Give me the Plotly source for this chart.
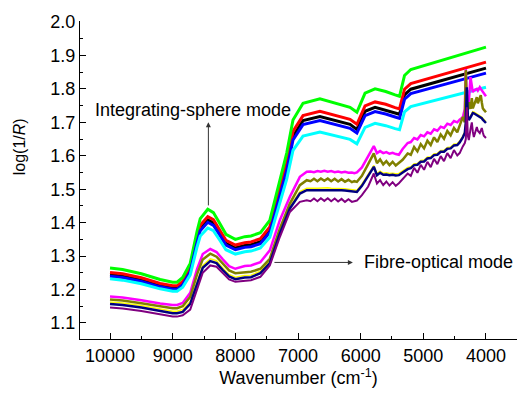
import plotly.graph_objects as go

# ---------------- data ----------------
X_SPHERE = [10000, 9800, 9500, 9200, 9000, 8930, 8840, 8720, 8610, 8560, 8440, 8350, 8250, 8150,
            8000, 7850, 7750, 7600, 7450, 7290, 7180, 7080, 6920, 6650, 6380, 6170, 6060, 5930,
            5770, 5600, 5450, 5380, 5300, 5200, 4000]

GREEN = [1.264, 1.260, 1.247, 1.230, 1.222, 1.222, 1.236, 1.278, 1.375, 1.412, 1.440, 1.430, 1.398, 1.365,
         1.350, 1.358, 1.360, 1.370, 1.407, 1.527, 1.608, 1.707, 1.757, 1.770, 1.757, 1.745, 1.730, 1.787,
         1.800, 1.792, 1.782, 1.778, 1.840, 1.858, 1.925]
RED = [1.251, 1.247, 1.235, 1.218, 1.211, 1.211, 1.224, 1.264, 1.357, 1.392, 1.418, 1.409, 1.378, 1.347,
       1.333, 1.340, 1.342, 1.352, 1.387, 1.501, 1.578, 1.673, 1.720, 1.733, 1.720, 1.709, 1.694, 1.749,
       1.761, 1.754, 1.744, 1.740, 1.799, 1.816, 1.880]
BLACK = [1.244, 1.240, 1.228, 1.212, 1.205, 1.205, 1.218, 1.257, 1.348, 1.382, 1.408, 1.399, 1.369, 1.338,
         1.324, 1.332, 1.334, 1.343, 1.377, 1.490, 1.565, 1.658, 1.705, 1.717, 1.705, 1.694, 1.679, 1.733,
         1.745, 1.737, 1.728, 1.724, 1.782, 1.799, 1.862]
BLUE = [1.240, 1.236, 1.224, 1.208, 1.201, 1.201, 1.214, 1.253, 1.342, 1.376, 1.401, 1.392, 1.363, 1.333,
        1.319, 1.326, 1.328, 1.337, 1.371, 1.481, 1.556, 1.647, 1.693, 1.705, 1.693, 1.682, 1.668, 1.720,
        1.732, 1.725, 1.716, 1.712, 1.769, 1.786, 1.847]
CYAN = [1.232, 1.228, 1.217, 1.202, 1.195, 1.195, 1.207, 1.244, 1.328, 1.360, 1.384, 1.376, 1.348, 1.319,
        1.306, 1.313, 1.315, 1.324, 1.356, 1.460, 1.530, 1.616, 1.659, 1.671, 1.659, 1.649, 1.636, 1.685,
        1.697, 1.690, 1.681, 1.678, 1.731, 1.747, 1.805]

X_FIBRE = [10000, 9800, 9500, 9200, 9000, 8930, 8840, 8720, 8610, 8520, 8400, 8300, 8200, 8100,
           8000, 7850, 7750, 7600, 7450, 7290, 7130, 6970, 6860,
           6800, 6745, 6690, 6635, 6580, 6525, 6470, 6415, 6360, 6305, 6250, 6195, 6140, 6100,
           6060, 5980, 5880, 5790, 5740, 5690, 5640, 5590, 5540, 5490, 5440, 5390, 5330, 5250,
           5200, 5147, 5094, 5041, 4988, 4935, 4882, 4829, 4776, 4723, 4670, 4617, 4564, 4511, 4458,
           4420, 4370, 4338, 4322, 4306, 4290, 4274, 4247, 4226, 4210, 4194, 4146, 4130, 4099, 4083,
           4067, 4051, 4035, 4000]

MAGENTA = [1.179, 1.176, 1.168, 1.158, 1.154, 1.154, 1.160, 1.190, 1.262, 1.306, 1.321, 1.312, 1.290, 1.270,
           1.262, 1.270, 1.272, 1.282, 1.317, 1.407, 1.477, 1.537, 1.552,
           1.553, 1.551, 1.554, 1.552, 1.555, 1.552, 1.554, 1.551, 1.553, 1.550, 1.552, 1.549, 1.550, 1.548,
           1.550, 1.565, 1.600, 1.629, 1.608, 1.614, 1.608, 1.611, 1.606, 1.609, 1.605, 1.603, 1.620, 1.638,
           1.641, 1.653, 1.649, 1.662, 1.658, 1.670, 1.666, 1.679, 1.675, 1.687, 1.683, 1.696, 1.692, 1.704, 1.700,
           1.708, 1.715, 1.740, 1.859, 1.760, 1.742, 1.760, 1.835, 1.800, 1.790, 1.795, 1.800, 1.795, 1.805, 1.800,
           1.795, 1.790, 1.785, 1.778]
YELLOW = [1.163, 1.160, 1.152, 1.142, 1.135, 1.135, 1.140, 1.164, 1.226, 1.272, 1.292, 1.286, 1.264, 1.245,
          1.237, 1.242, 1.243, 1.255, 1.285, 1.373, 1.448, 1.493, 1.503,
          1.502, 1.503, 1.503, 1.504, 1.503, 1.504, 1.503, 1.503, 1.502, 1.502, 1.501, 1.500, 1.499, 1.498,
          1.497, 1.515, 1.545, 1.571, 1.547, 1.554, 1.548, 1.549, 1.547, 1.548, 1.546, 1.547, 1.555, 1.565,
          1.567, 1.576, 1.577, 1.586, 1.587, 1.596, 1.597, 1.606, 1.607, 1.616, 1.616, 1.625, 1.626, 1.635, 1.636,
          1.644, 1.659, 1.672, 1.704, 1.760, 1.724, 1.711, 1.719, 1.729, 1.732, 1.731, 1.726, 1.724, 1.720, 1.717,
          1.716, 1.712, 1.709, 1.702]
OLIVE = [1.170, 1.167, 1.159, 1.149, 1.144, 1.144, 1.150, 1.178, 1.246, 1.290, 1.307, 1.298, 1.276, 1.257,
         1.249, 1.252, 1.253, 1.262, 1.292, 1.382, 1.457, 1.512, 1.527,
         1.524, 1.531, 1.524, 1.532, 1.525, 1.532, 1.524, 1.531, 1.523, 1.530, 1.522, 1.528, 1.521, 1.524,
         1.522, 1.540, 1.575, 1.607, 1.578, 1.589, 1.574, 1.584, 1.572, 1.582, 1.571, 1.579, 1.588, 1.607,
         1.603, 1.626, 1.613, 1.635, 1.622, 1.645, 1.632, 1.655, 1.641, 1.664, 1.651, 1.674, 1.661, 1.683, 1.670,
         1.690, 1.716, 1.700, 1.856, 1.745, 1.737, 1.760, 1.740, 1.772, 1.742, 1.750, 1.775, 1.757, 1.770, 1.781,
         1.760, 1.742, 1.738, 1.730]
NAVY = [1.157, 1.154, 1.146, 1.136, 1.129, 1.129, 1.133, 1.157, 1.219, 1.265, 1.285, 1.279, 1.258, 1.239,
        1.231, 1.236, 1.237, 1.249, 1.279, 1.367, 1.442, 1.487, 1.497,
        1.497, 1.498, 1.498, 1.499, 1.498, 1.499, 1.498, 1.498, 1.497, 1.497, 1.496, 1.495, 1.494, 1.493,
        1.492, 1.510, 1.540, 1.567, 1.542, 1.549, 1.543, 1.544, 1.542, 1.543, 1.541, 1.542, 1.550, 1.560,
        1.563, 1.572, 1.573, 1.582, 1.583, 1.592, 1.593, 1.602, 1.603, 1.612, 1.612, 1.621, 1.622, 1.631, 1.632,
        1.640, 1.655, 1.668, 1.700, 1.805, 1.720, 1.707, 1.715, 1.725, 1.728, 1.727, 1.722, 1.720, 1.716, 1.713,
        1.712, 1.708, 1.705, 1.698]
PURPLE = [1.146, 1.143, 1.136, 1.126, 1.119, 1.119, 1.123, 1.140, 1.198, 1.250, 1.272, 1.268, 1.249, 1.230,
          1.223, 1.227, 1.228, 1.238, 1.272, 1.357, 1.432, 1.462, 1.467,
          1.464, 1.472, 1.464, 1.473, 1.465, 1.473, 1.464, 1.472, 1.463, 1.471, 1.462, 1.470, 1.462, 1.465,
          1.466, 1.482, 1.508, 1.547, 1.517, 1.527, 1.512, 1.523, 1.511, 1.521, 1.510, 1.518, 1.530, 1.547,
          1.540, 1.564, 1.549, 1.573, 1.558, 1.582, 1.566, 1.591, 1.575, 1.599, 1.584, 1.608, 1.593, 1.617, 1.601,
          1.608, 1.628, 1.638, 1.650, 1.745, 1.660, 1.647, 1.680, 1.700, 1.672, 1.656, 1.686, 1.675, 1.668, 1.680,
          1.683, 1.670, 1.660, 1.653]

X_TICKS = [10000, 9000, 8000, 7000, 6000, 5000, 4000]
Y_TICKS = [1.1, 1.2, 1.3, 1.4, 1.5, 1.6, 1.7, 1.8, 1.9, 2.0]

# ---------------- figure ----------------
FONT = "Arial, 'Liberation Sans', sans-serif"
fig = go.Figure()

series = [
    (X_SPHERE, BLACK, "#000000", 3),
    (X_SPHERE, RED, "#FF0000", 3),
    (X_SPHERE, GREEN, "#00FF00", 3),
    (X_SPHERE, BLUE, "#0000FF", 3),
    (X_SPHERE, CYAN, "#00FFFF", 3),
    (X_FIBRE, MAGENTA, "#FF00FF", 2.5),
    (X_FIBRE, YELLOW, "#FFFF00", 1.5),
    (X_FIBRE, OLIVE, "#808000", 2.5),
    (X_FIBRE, NAVY, "#000080", 2.5),
    (X_FIBRE, PURPLE, "#800080", 2),
]
for xs, ys, col, w in series:
    fig.add_trace(go.Scatter(x=xs, y=ys, mode="lines", line=dict(color=col, width=w),
                             showlegend=False, hoverinfo="skip"))

fig.add_annotation(x=8430, y=1.700, ax=8430, ay=1.447, xref="x", yref="y", axref="x", ayref="y",
                   text="", showarrow=True, arrowhead=2, arrowsize=1, arrowwidth=1, arrowcolor="#333333")
fig.add_annotation(x=6124, y=1.281, ax=7400, ay=1.281, xref="x", yref="y", axref="x", ayref="y",
                   text="", showarrow=True, arrowhead=2, arrowsize=1, arrowwidth=1, arrowcolor="#333333")
fig.add_annotation(x=10271, y=1.737, xref="x", yref="y", text="Integrating-sphere mode", showarrow=False,
                   xanchor="left", yanchor="middle", font=dict(family=FONT, size=18, color="black"))
fig.add_annotation(x=5981, y=1.281, xref="x", yref="y", text="Fibre-optical mode", showarrow=False,
                   xanchor="left", yanchor="middle", font=dict(family=FONT, size=18, color="black"))
fig.add_annotation(x=-0.138, y=0.605, xref="paper", yref="paper", text="log(1/<i>R</i>)", showarrow=False,
                   textangle=-90, xanchor="center", yanchor="middle",
                   font=dict(family=FONT, size=16, color="black"))

fig.update_xaxes(range=[10479, 3505], tickvals=X_TICKS, ticktext=[str(v) for v in X_TICKS],
                 ticks="inside", ticklen=6, tickwidth=1, tickcolor="black",
                 minor=dict(dtick=500, ticks="inside", ticklen=3, tickcolor="black", tick0=500),
                 showline=True, linecolor="black", linewidth=1, showgrid=False, zeroline=False,
                 tickfont=dict(family=FONT, size=18, color="black"),
                 title=dict(text="Wavenumber (cm<sup>-1</sup>)", font=dict(family=FONT, size=18, color="black"),
                            standoff=4))
fig.update_yaxes(range=[1.052, 2.003], tickvals=Y_TICKS, ticktext=["%.1f" % v for v in Y_TICKS],
                 ticks="inside", ticklen=6, tickwidth=1, tickcolor="black",
                 minor=dict(dtick=0.05, ticks="inside", ticklen=3, tickcolor="black", tick0=1.05),
                 showline=True, linecolor="black", linewidth=1, showgrid=False, zeroline=False,
                 tickfont=dict(family=FONT, size=18, color="black"))

fig.update_layout(width=517, height=394, margin=dict(l=80, r=0, t=21, b=55),
                  paper_bgcolor="white", plot_bgcolor="white")

fig.write_html("out.html")
